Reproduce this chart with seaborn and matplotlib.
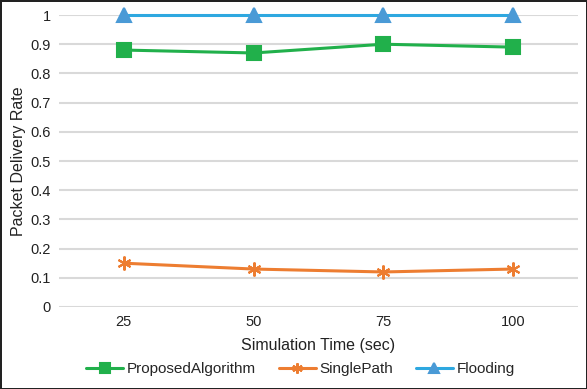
import pandas as pd
import matplotlib.pyplot as plt
import seaborn as sns

times = ["25", "50", "75", "100"]
proposed = [0.88, 0.87, 0.90, 0.89]
single_path = [0.15, 0.13, 0.12, 0.13]
flooding = [1.0, 1.0, 1.0, 1.0]

series = {
    "ProposedAlgorithm": proposed,
    "SinglePath": single_path,
    "Flooding": flooding,
}
colors = {"ProposedAlgorithm": "#21b04b", "SinglePath": "#ed7d31", "Flooding": "#2ea8e0"}
marker_colors = {"ProposedAlgorithm": "#21b04b", "SinglePath": "#ed7d31", "Flooding": "#4a9ad6"}
markers = {"ProposedAlgorithm": "s", "SinglePath": (6, 2, 0), "Flooding": "^"}


def main():
    sns.set_style("white")
    plt.rcParams["font.family"] = ["Liberation Sans", "DejaVu Sans"]

    fig = plt.figure(figsize=(5.87, 3.89), dpi=100, edgecolor="#222222", linewidth=2)
    ax = fig.add_axes([0.1005, 0.2108, 0.8842, 0.7506])

    for name, vals in series.items():
        df = pd.DataFrame({"time": times, "rate": vals})
        sns.lineplot(data=df, x="time", y="rate", ax=ax, sort=False, label=name,
                     color=colors[name], linewidth=2.2, marker=markers[name],
                     markersize=10, markeredgewidth=1.5,
                     markerfacecolor=marker_colors[name],
                     markeredgecolor=marker_colors[name], clip_on=False)

    ax.set_xlim(-0.5, 3.5)
    ax.set_ylim(0, 1)
    ax.set_yticks([i / 10 for i in range(11)])
    ax.set_yticklabels(["0"] + [f"{i / 10:.1f}" for i in range(1, 10)] + ["1"])
    ax.yaxis.grid(True, color="#d9d9d9", linewidth=1.5)
    ax.set_axisbelow(True)
    for sp in ax.spines.values():
        sp.set_visible(False)
    ax.tick_params(axis="both", length=0, labelsize=10.5, colors="#222222", pad=6)

    ax.set_xlabel("Simulation Time (sec)", fontsize=11.5, color="#222222", labelpad=6)
    ax.set_ylabel("Packet Delivery Rate", fontsize=11.5, color="#222222", labelpad=3)

    handles, labels = ax.get_legend_handles_labels()
    ax.legend_.remove()
    fig.legend(handles, labels, loc="center", bbox_to_anchor=(0.512, 0.051), ncol=3,
               frameon=False, fontsize=11, handlelength=2.4, handletextpad=0.25,
               columnspacing=1.5, markerscale=0.75)

    fig.savefig("out.png", dpi=100)


if __name__ == "__main__":
    main()
